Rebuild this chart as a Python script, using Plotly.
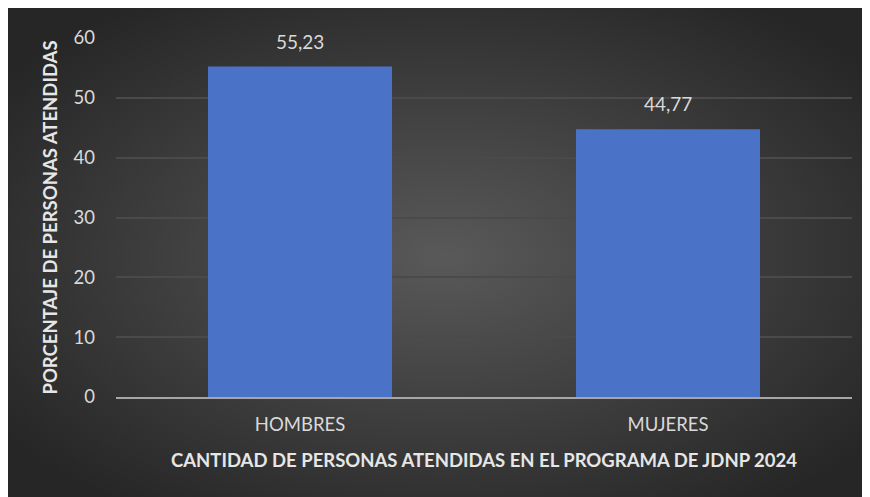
import base64
import plotly.graph_objects as go

categories = ['HOMBRES', 'MUJERES']
porcentajes = [55.23, 44.77]
y_ticks = [0, 10, 20, 30, 40, 50, 60]

# fondo con degradado radial (como el estilo oscuro de Excel)
svg = ('<svg xmlns="http://www.w3.org/2000/svg" width="870" height="497" preserveAspectRatio="none">'
       '<defs><radialGradient id="g" cx="0.5" cy="0.5" r="0.62">'
       '<stop offset="0" stop-color="#595959"/>'
       '<stop offset="1" stop-color="#262626"/>'
       '</radialGradient></defs>'
       '<rect width="870" height="497" fill="url(#g)"/></svg>')
bg = 'data:image/svg+xml;base64,' + base64.b64encode(svg.encode()).decode()

font = 'Lato, Open Sans, sans-serif'

fig = go.Figure()
fig.add_trace(go.Bar(x=categories, y=porcentajes, width=0.5,
                     marker=dict(color='#4a73c8', line=dict(width=0))))

labels = [f'{v:.2f}'.replace('.', ',') for v in porcentajes]
for c, v, t in zip(categories, porcentajes, labels):
    fig.add_annotation(x=c, y=v, text=t, showarrow=False, yanchor='bottom', yshift=12,
                       font=dict(family=font, size=19, color='#d9d9d9'))

fig.add_layout_image(dict(source=bg, xref='paper', yref='paper',
                          x=-0.1467, y=1.0836, sizex=1.182, sizey=1.3844,
                          xanchor='left', yanchor='top', sizing='stretch', layer='below'))

fig.update_layout(
    width=870, height=497,
    margin=dict(l=108, r=26, t=30, b=108),
    paper_bgcolor='#2b2b2b', plot_bgcolor='rgba(0,0,0,0)',
    showlegend=False,
    font=dict(family=font, color='#d9d9d9'),
)
fig.update_yaxes(range=[0, 60], tickvals=y_ticks, showgrid=True, gridcolor='#4a4a4a', gridwidth=1.5,
                 zeroline=False, showline=False, ticks='', ticklabelstandoff=20,
                 tickfont=dict(size=18.5, color='#d9d9d9'),
                 title=dict(text='<b>PORCENTAJE DE PERSONAS ATENDIDAS</b>', standoff=11,
                            font=dict(size=18.5, color='#e6e6e6')))
fig.update_xaxes(showline=True, linecolor='#a6a6a6', linewidth=2, ticks='', ticklabelstandoff=10,
                 tickfont=dict(size=18.5, color='#d9d9d9'),
                 title=dict(text='<b>CANTIDAD DE PERSONAS ATENDIDAS EN EL PROGRAMA DE JDNP 2024</b>',
                            standoff=20, font=dict(size=18.5, color='#e6e6e6')))

fig.write_html('out.html')
